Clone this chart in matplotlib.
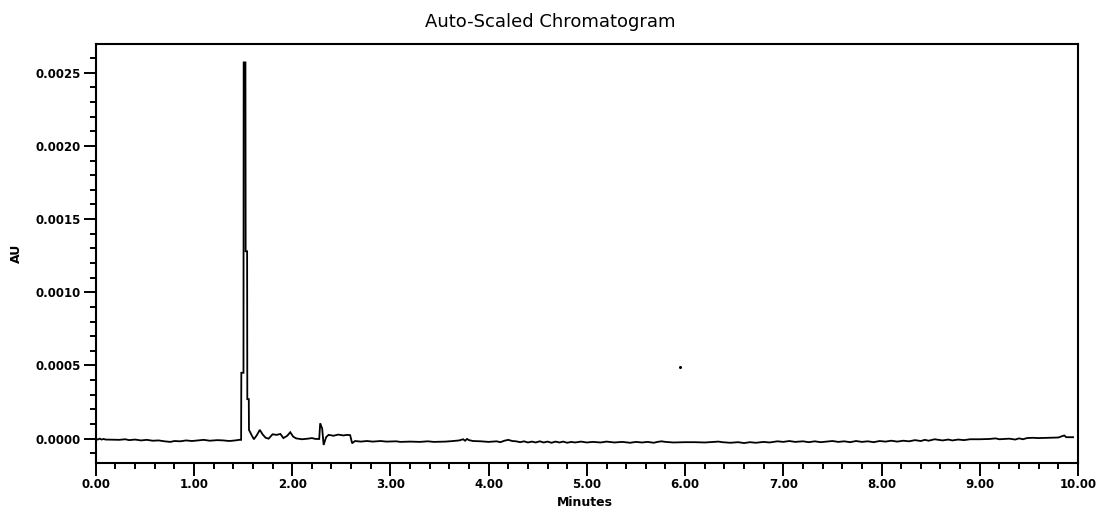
import matplotlib
matplotlib.use("Agg")
import matplotlib.pyplot as plt
import numpy as np
from matplotlib.ticker import MultipleLocator, FormatStrFormatter

# ---- data (time in minutes, absorbance in micro-AU) ----
time_min = [
    0.00, 0.02, 0.04, 0.06, 0.08, 0.10, 0.24, 0.30, 0.34, 0.40, 0.46, 0.52, 0.58, 0.64,
    0.70, 0.76, 0.80, 0.86, 0.92, 0.98, 1.04, 1.10, 1.16, 1.24, 1.30, 1.36, 1.42, 1.46,
    1.480, 1.482, 1.504, 1.506, 1.524, 1.526, 1.541, 1.543, 1.558, 1.560,
    1.590, 1.610, 1.640, 1.670, 1.700, 1.730, 1.760,
    1.800, 1.840, 1.880, 1.910, 1.950, 1.980, 2.010, 2.040, 2.100, 2.160, 2.200, 2.240,
    2.275, 2.285, 2.305, 2.320, 2.345, 2.370, 2.420, 2.470, 2.520, 2.560, 2.590, 2.610, 2.640, 2.700,
    2.760, 2.820, 2.900, 2.960, 3.060, 3.100, 3.200, 3.300, 3.380, 3.440, 3.560, 3.640,
    3.700, 3.740, 3.760, 3.780, 3.800, 3.840, 3.920, 4.000, 4.080, 4.120, 4.160, 4.200,
    4.240, 4.280, 4.320, 4.360, 4.400, 4.440, 4.480, 4.520, 4.560, 4.600, 4.640, 4.680,
    4.720, 4.760, 4.800, 4.840, 4.880, 4.940, 5.000, 5.060, 5.140, 5.200, 5.280, 5.360,
    5.440, 5.500, 5.560, 5.620, 5.680, 5.720, 5.760, 5.800, 5.880, 6.000, 6.100, 6.200,
    6.340, 6.380, 6.460, 6.540, 6.600, 6.660, 6.720, 6.800, 6.860, 6.940, 7.000, 7.060,
    7.120, 7.200, 7.260, 7.320, 7.380, 7.440, 7.500, 7.560, 7.620, 7.680, 7.740, 7.800,
    7.860, 7.920, 7.980, 8.040, 8.100, 8.160, 8.220, 8.280, 8.340, 8.400, 8.440, 8.480,
    8.540, 8.580, 8.620, 8.680, 8.720, 8.780, 8.840, 8.900, 9.000, 9.100, 9.160, 9.200,
    9.300, 9.360, 9.400, 9.440, 9.480, 9.540, 9.600, 9.700, 9.800, 9.860, 9.880, 9.950,
]
signal_micro_au = [
    0, -6, 0, -6, -2, -6, -8, -4, -10, -6, -12, -8, -14, -12,
    -18, -22, -16, -18, -12, -16, -12, -8, -14, -10, -12, -16, -12, -8,
    -8, 450, 450, 2570, 2570, 1280, 1280, 270, 270, 60,
    20, -4, 24, 60, 28, 6, 0,
    30, 26, 32, 4, 20, 44, 14, 2, -4, 0, 4, -2,
    -2, 105, 70, -43, 10, 26, 20, 28, 22, 26, 24, -31, -16, -20,
    -16, -20, -16, -20, -18, -22, -20, -22, -18, -22, -20, -16,
    -12, -4, -14, -2, -10, -16, -18, -22, -18, -24, -14, -8,
    -16, -18, -24, -18, -26, -20, -26, -18, -26, -20, -28, -20,
    -26, -20, -28, -22, -26, -20, -26, -22, -26, -20, -26, -22,
    -28, -22, -26, -22, -28, -22, -18, -22, -26, -24, -24, -26,
    -20, -24, -28, -24, -30, -24, -28, -22, -26, -18, -22, -16,
    -22, -18, -24, -18, -24, -20, -16, -22, -18, -24, -16, -22,
    -18, -24, -16, -20, -14, -20, -14, -18, -10, -16, -8, -14,
    -4, -8, -12, -6, -12, -6, -10, -4, -4, -2, 2, -4,
    0, -6, 2, -4, 4, 6, 4, 6, 8, 22, 10, 10,
]
stray_point_min = [5.95]
stray_point_au = [0.00049]

x_major_step = 1.0
y_major_step = 0.0005

t = np.array(time_min)
au = np.array(signal_micro_au) * 1e-6

fig = plt.figure(figsize=(10.98, 5.09), dpi=100)
ax = fig.add_axes([0.0872, 0.0910, 0.8946, 0.8226])
ax.plot(t, au, color='black', lw=1.3, solid_joinstyle='miter')
ax.plot(stray_point_min, stray_point_au, 'o', color='black', ms=1.2)

ax.set_xlim(0, 10)
ax.set_ylim(-0.000164, 0.002696)
ax.xaxis.set_major_locator(MultipleLocator(x_major_step))
ax.xaxis.set_minor_locator(MultipleLocator(0.2))
ax.yaxis.set_major_locator(MultipleLocator(y_major_step))
ax.yaxis.set_minor_locator(MultipleLocator(0.0001))
ax.xaxis.set_major_formatter(FormatStrFormatter('%.2f'))
ax.yaxis.set_major_formatter(FormatStrFormatter('%.4f'))

for s in ax.spines.values():
    s.set_linewidth(1.5)
ax.tick_params(which='major', length=9, width=1.4, direction='out', labelsize=8.5, pad=2)
ax.tick_params(which='minor', length=4, width=1.4, direction='out')
for lbl in ax.get_xticklabels() + ax.get_yticklabels():
    lbl.set_fontweight('bold')

fig.text(0.501, 0.957, 'Auto-Scaled Chromatogram', ha='center', va='center', fontsize=13)
fig.text(585 / 1098, 1 - 503 / 509, 'Minutes', ha='center', va='center', fontsize=9, fontweight='bold')
fig.text(16 / 1098, 1 - 253 / 509, 'AU', ha='center', va='center', rotation=90, fontsize=9, fontweight='bold')

fig.savefig('out.png', dpi=100)
